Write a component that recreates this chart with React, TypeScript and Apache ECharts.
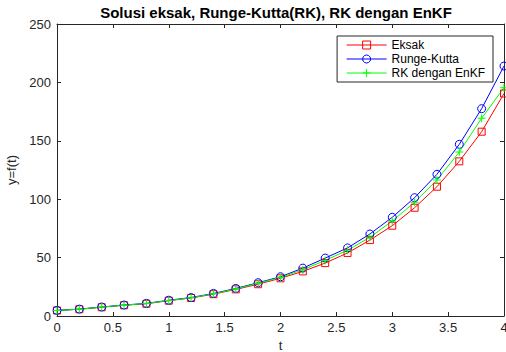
import React, { useEffect, useRef } from "react";
import * as echarts from "echarts";

const tValues = [0, 0.2, 0.4, 0.6, 0.8, 1.0, 1.2, 1.4, 1.6, 1.8, 2.0, 2.2, 2.4, 2.6, 2.8, 3.0, 3.2, 3.4, 3.6, 3.8, 4.0];
const eksak = [4.7, 5.8, 7.5, 9.2, 10.5, 13.1, 15.4, 18.7, 22.8, 27.2, 32.3, 38.2, 45.3, 54.0, 65.0, 77.3, 92.7, 110.7, 132.4, 157.8, 190.5];
const rungeKutta = [4.8, 5.9, 7.7, 9.4, 10.8, 13.5, 15.8, 19.3, 23.6, 28.5, 33.6, 41.0, 49.6, 58.3, 70.2, 84.5, 101.3, 121.3, 147.0, 177.5, 214.0];
const rkEnKF = [4.7, 5.8, 7.6, 9.3, 10.7, 13.3, 15.6, 19.0, 23.2, 28.0, 33.0, 39.6, 47.6, 56.3, 67.4, 81.3, 97.3, 116.4, 140.4, 169.3, 195.5];
const seriesNames = ["Eksak", "Runge-Kutta", "RK dengan EnKF"];
const titleText = "Solusi eksak, Runge-Kutta(RK), RK dengan EnKF";

const AXIS = "#262626";
const FONT = "'Liberation Sans', Arial, Helvetica, sans-serif";
const PLUS = "path://M3.5,0H4.5V3.5H8V4.5H4.5V8H3.5V4.5H0V3.5H3.5Z";

export default function App() {
  const ref = useRef<HTMLDivElement>(null);
  useEffect(() => {
    if (!ref.current) return;
    const chart = echarts.init(ref.current, null, { renderer: "svg" });
    const pairs = (arr: number[]) => tValues.map((t, i) => [t, arr[i]]);
    const axisCommon = {
      axisLine: { show: true, onZero: false, lineStyle: { color: AXIS, width: 1 } },
      axisTick: { show: true, inside: true, length: 4, lineStyle: { color: AXIS } },
      splitLine: { show: false },
    };
    chart.setOption({
      animation: false,
      backgroundColor: "#ffffff",
      textStyle: { fontFamily: FONT },
      grid: { left: 57, right: 2, top: 24, bottom: 36, outerBoundsMode: "none", containLabel: false },
      graphic: [
        {
          type: "text",
          x: 276,
          y: 5,
          style: {
            text: titleText,
            fill: "#000000",
            font: `bold 15px ${FONT}`,
            textAlign: "center",
            textVerticalAlign: "top",
          },
        },
      ],
      xAxis: [
        {
          type: "value",
          min: 0,
          max: 4,
          interval: 0.5,
          position: "bottom",
          name: "t",
          nameLocation: "middle",
          nameGap: 23,
          nameTextStyle: { color: AXIS, fontSize: 13, fontFamily: FONT },
          axisLabel: { color: AXIS, fontSize: 13, margin: 5, fontFamily: FONT },
          ...axisCommon,
        },
        {
          type: "value",
          min: 0,
          max: 4,
          interval: 0.5,
          position: "top",
          axisLabel: { show: false },
          ...axisCommon,
        },
      ],
      yAxis: [
        {
          type: "value",
          min: 0,
          max: 250,
          interval: 50,
          position: "left",
          name: "y=f(t)",
          nameLocation: "middle",
          nameGap: 33,
          nameTextStyle: { color: AXIS, fontSize: 13, fontFamily: FONT },
          axisLabel: { color: AXIS, fontSize: 13, margin: 6, fontFamily: FONT },
          ...axisCommon,
        },
        {
          type: "value",
          min: 0,
          max: 250,
          interval: 50,
          position: "right",
          axisLabel: { show: false },
          ...axisCommon,
        },
      ],
      legend: {
        orient: "vertical",
        right: 13,
        top: 36,
        data: seriesNames,
        backgroundColor: "#ffffff",
        borderColor: AXIS,
        borderWidth: 1,
        borderRadius: 0,
        padding: [3, 8, 3, 9],
        itemGap: 2,
        itemWidth: 40,
        itemHeight: 10,
        lineStyle: { width: 1 },
        itemStyle: { borderWidth: 1 },
        textStyle: { color: "#000000", fontSize: 12, fontFamily: FONT, padding: [0, 0, 0, 0] },
      },
      series: [
        {
          name: seriesNames[0],
          type: "line",
          data: pairs(eksak),
          symbol: "rect",
          symbolSize: 7,
          lineStyle: { color: "#ff0000", width: 1 },
          itemStyle: { color: "rgba(255,255,255,0)", borderColor: "#ff0000", borderWidth: 1 },
        },
        {
          name: seriesNames[1],
          type: "line",
          data: pairs(rungeKutta),
          symbol: "circle",
          symbolSize: 8,
          lineStyle: { color: "#0000ff", width: 1 },
          itemStyle: { color: "rgba(255,255,255,0)", borderColor: "#0000ff", borderWidth: 1 },
        },
        {
          name: seriesNames[2],
          type: "line",
          data: pairs(rkEnKF),
          symbol: PLUS,
          symbolSize: 8,
          lineStyle: { color: "#00ff00", width: 1 },
          itemStyle: { color: "#00ff00", borderWidth: 0 },
        },
      ],
    });
    return () => chart.dispose();
  }, []);
  return <div ref={ref} style={{ width: 506, height: 352, position: "absolute", left: 0, top: 0 }} />;
}
